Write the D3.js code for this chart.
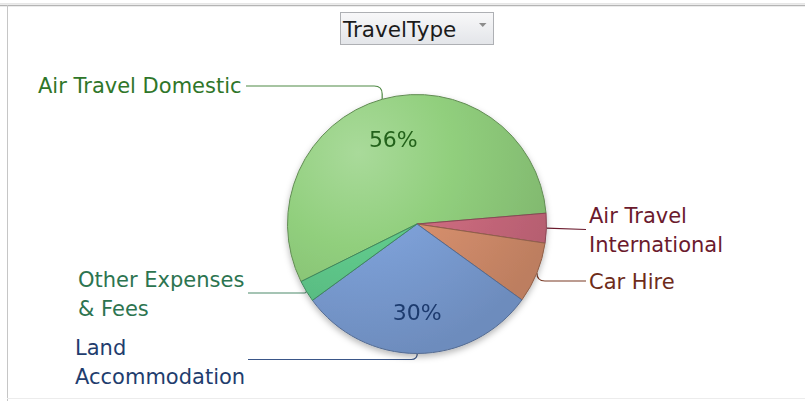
<!DOCTYPE html>
<html>
<head>
<meta charset="utf-8">
<script src="https://cdn.jsdelivr.net/npm/d3@7"></script>
<style>
  html, body { margin: 0; padding: 0; background: #ffffff; }
  svg { display: block; }
  text { font-family: "DejaVu Sans", "Liberation Sans", sans-serif; }
</style>
</head>
<body>
<svg id="chart" width="805" height="401"></svg>
<script>
// ---- data ----
const fieldName = "TravelType";
const categories = [
  "Air Travel Domestic",
  "Air Travel International",
  "Car Hire",
  "Land Accommodation",
  "Other Expenses & Fees"
];
const shares = [56, 3.7, 7.6, 30, 2.7];   // percent of total travel spend

// ---- styling / layout ----
const sliceColors = ["#91cf7d", "#cd6b7f", "#d68f6d", "#7c9fd6", "#5fc98b"];
const labelColors = ["#2f7629", "#6b1a2d", "#6e2c1a", "#1f3d6e", "#2c7450"];
const leaderColors = ["#4f8a45", "#6b1a2d", "#7a3a25", "#3a5688", "#4d8a6a"];
const pctColors   = ["#24621a", null, null, "#1d3a6e", null];

// wrapped label lines and where each callout sits
const labelLayout = [
  { lines: ["Air Travel Domestic"],         x: 38,  y0: 93,  leaderY: 86,    leaderX: 246 },
  { lines: ["Air Travel", "International"], x: 589, y0: 223, leaderY: 229.5, leaderX: 586 },
  { lines: ["Car Hire"],                    x: 589, y0: 289, leaderY: 281,   leaderX: 586 },
  { lines: ["Land", "Accommodation"],       x: 75,  y0: 355, leaderY: 359.5, leaderX: 248 },
  { lines: ["Other Expenses", "& Fees"],    x: 78,  y0: 287, leaderY: 293,   leaderX: 248 }
];
const lineGap = 29;
const labelFont = 21;

const W = 805, H = 401;
const cx = 417, cy = 224, R = 129.5;
const startDeg = 243.6;

const svg = d3.select("#chart");
const defs = svg.append("defs");

// ---- frame ----
svg.append("line").attr("x1", 0).attr("x2", W).attr("y1", 3.5).attr("y2", 3.5)
  .attr("stroke", "#e6e6e6").attr("stroke-width", 1);
svg.append("line").attr("x1", 0).attr("x2", W).attr("y1", 5.5).attr("y2", 5.5)
  .attr("stroke", "#b4b4b4").attr("stroke-width", 1.5);
svg.append("line").attr("x1", 7.5).attr("x2", 7.5).attr("y1", 5).attr("y2", H)
  .attr("stroke", "#c6c6c6").attr("stroke-width", 1);
svg.append("line").attr("x1", 7).attr("x2", W).attr("y1", 398.5).attr("y2", 398.5)
  .attr("stroke", "#ececec").attr("stroke-width", 1);

// ---- field button ----
const btnGrad = defs.append("linearGradient").attr("id", "btnGrad")
  .attr("x1", 0).attr("y1", 0).attr("x2", 0).attr("y2", 1);
btnGrad.append("stop").attr("offset", 0).attr("stop-color", "#f8f8f9");
btnGrad.append("stop").attr("offset", 1).attr("stop-color", "#e3e5e9");
const btn = svg.append("g");
btn.append("rect").attr("x", 340.5).attr("y", 12.5).attr("width", 153).attr("height", 32)
  .attr("fill", "url(#btnGrad)").attr("stroke", "#aeb0b4").attr("stroke-width", 1);
btn.append("text").attr("x", 343).attr("y", 37).attr("font-size", 21.5)
  .attr("fill", "#1b1b1b").text(fieldName);
btn.append("path").attr("d", "M479,23 L486.5,23 L482.75,27 Z").attr("fill", "#8c8c8c");

// ---- pie ----
const data = categories.map((c, i) => ({ category: c, share: shares[i], i }));
const pie = d3.pie().value(d => d.share).sort(null)
  .startAngle(startDeg * Math.PI / 180)
  .endAngle(startDeg * Math.PI / 180 + 2 * Math.PI);
const arcs = pie(data);
const arc = d3.arc().innerRadius(0).outerRadius(R);
const edgeArc = d3.arc().innerRadius(R).outerRadius(R);
const pctArc = d3.arc().innerRadius(R * 0.68).outerRadius(R * 0.68);

// shaded fill for each slice: lighter toward the upper left, darker at the rim
// (coordinates are relative to the pie centre)
sliceColors.forEach((c, i) => {
  const base = d3.color(c);
  const g = defs.append("radialGradient").attr("id", "sg" + i)
    .attr("gradientUnits", "userSpaceOnUse")
    .attr("cx", -0.45 * R).attr("cy", -0.55 * R).attr("r", 1.6 * R);
  g.append("stop").attr("offset", 0).attr("stop-color", d3.interpolateRgb(base, "#ffffff")(0.22));
  g.append("stop").attr("offset", 0.45).attr("stop-color", base.formatHex());
  g.append("stop").attr("offset", 1).attr("stop-color", base.darker(0.35).formatHex());
});

const shadow = defs.append("filter").attr("id", "pieShadow")
  .attr("x", "-20%").attr("y", "-20%").attr("width", "140%").attr("height", "140%");
shadow.append("feDropShadow").attr("dx", 0).attr("dy", 3).attr("stdDeviation", 3)
  .attr("flood-color", "#000").attr("flood-opacity", 0.28);

// ---- leader lines ----
const leaders = svg.append("g").attr("fill", "none").attr("stroke-width", 1.2);
arcs.forEach((a, i) => {
  const L = labelLayout[i];
  const c = edgeArc.centroid(a);
  const ex = c[0] + cx, ey = c[1] + cy;
  const dy = ey - L.leaderY;
  const sx = Math.sign(ex - L.leaderX);
  const r = Math.min(8, Math.abs(dy));
  let d;
  if (r < 1.5) {
    d = `M${L.leaderX},${L.leaderY} L${ex},${ey}`;
  } else {
    const sy = Math.sign(dy);
    d = `M${L.leaderX},${L.leaderY} H${ex - sx * r} Q${ex},${L.leaderY} ${ex},${L.leaderY + sy * r} L${ex},${ey}`;
  }
  leaders.append("path").attr("d", d).attr("stroke", leaderColors[i]);
});

// ---- slices ----
const pieG = svg.append("g").attr("transform", `translate(${cx},${cy})`)
  .attr("filter", "url(#pieShadow)");
pieG.selectAll("path.slice").data(arcs).join("path")
  .attr("class", "slice")
  .attr("d", arc)
  .attr("fill", (d, i) => "url(#sg" + i + ")")
  .attr("stroke", (d, i) => d3.color(sliceColors[i]).darker(1.1).formatHex())
  .attr("stroke-width", 1)
  .attr("stroke-linejoin", "round");

// ---- percent labels on the large slices ----
const fmt = d3.format(".0%");
pieG.selectAll("text.pct").data(arcs.filter(a => a.data.share >= 20)).join("text")
  .attr("class", "pct")
  .attr("x", d => pctArc.centroid(d)[0])
  .attr("y", d => pctArc.centroid(d)[1] + 8)
  .attr("text-anchor", "middle")
  .attr("font-size", 22)
  .attr("fill", d => pctColors[d.data.i])
  .text(d => fmt(d.data.share / 100));

// ---- category labels ----
const labels = svg.append("g");
arcs.forEach((a, i) => {
  const L = labelLayout[i];
  const t = labels.append("text")
    .attr("font-size", labelFont)
    .attr("fill", labelColors[i]);
  L.lines.forEach((ln, k) => {
    t.append("tspan").attr("x", L.x).attr("y", L.y0 + k * lineGap).text(ln);
  });
});
</script>
</body>
</html>
